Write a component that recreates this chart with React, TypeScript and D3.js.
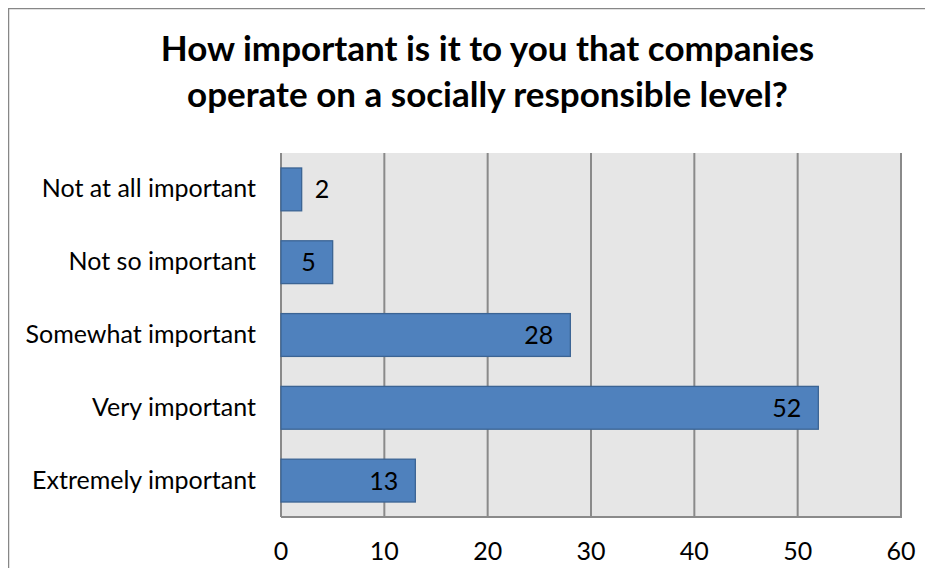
import React from "react";
import * as d3 from "d3";

const categories = [
  "Not at all important",
  "Not so important",
  "Somewhat important",
  "Very important",
  "Extremely important",
];
const values = [2, 5, 28, 52, 13];
const xTicks = [0, 10, 20, 30, 40, 50, 60];
const titleLines = [
  "How important is it to you that companies",
  "operate on a socially responsible level?",
];

const W = 925;
const H = 560;
const FONT = "Lato, 'Open Sans', sans-serif";

export default function App() {
  const plot = { left: 273, right: 893, top: 145, bottom: 509 };
  const x = d3.scaleLinear().domain([0, 60]).range([plot.left, plot.right]);
  const y = d3
    .scaleBand<string>()
    .domain(categories)
    .range([plot.top, plot.bottom])
    .paddingInner(0.7 / 1.7)
    .paddingOuter(0.35 / 1.7);
  const labelSize = 25;
  const pad = 17;

  return (
    <svg width={W} height={H} style={{ display: "block" }} fontFamily={FONT}>
      <rect x={0.5} y={0.5} width={W + 20} height={H + 20} fill="#fff" stroke="#878787" strokeWidth={1.5} />
      {titleLines.map((t, i) => (
        <text key={i} x={479.5} y={53 + i * 46} textAnchor="middle" fontSize={35} fontWeight={700} fill="#000">
          {t}
        </text>
      ))}
      <rect x={plot.left} y={plot.top} width={plot.right - plot.left} height={plot.bottom - plot.top} fill="#E6E6E6" />
      {xTicks.map((t) => (
        <line key={t} x1={x(t)} x2={x(t)} y1={plot.top} y2={plot.bottom} stroke="#8a8a8a" strokeWidth={2} />
      ))}
      <line x1={plot.left} x2={plot.right + 1} y1={plot.bottom} y2={plot.bottom} stroke="#8a8a8a" strokeWidth={2} />
      {categories.map((c, i) => {
        const v = values[i];
        const by = y(c)!;
        const bh = y.bandwidth();
        const bw = x(v) - x(0);
        const tw = 0.5 * labelSize * String(v).length;
        const inside = bw > tw + 2 * pad;
        return (
          <g key={c}>
            <rect x={x(0)} y={by} width={bw} height={bh} fill="#4F81BD" stroke="#3B6494" strokeWidth={1.3} />
            <text
              x={inside ? x(v) - pad : x(v) + 13}
              y={by + bh / 2 + 9}
              textAnchor={inside ? "end" : "start"}
              fontSize={labelSize}
              fill="#000"
            >
              {v}
            </text>
            <text x={248} y={by + bh / 2 + 8} textAnchor="end" fontSize={labelSize} fill="#000">
              {c}
            </text>
          </g>
        );
      })}
      {xTicks.map((t) => (
        <text key={t} x={x(t)} y={552} textAnchor="middle" fontSize={labelSize} fill="#000">
          {t}
        </text>
      ))}
    </svg>
  );
}
